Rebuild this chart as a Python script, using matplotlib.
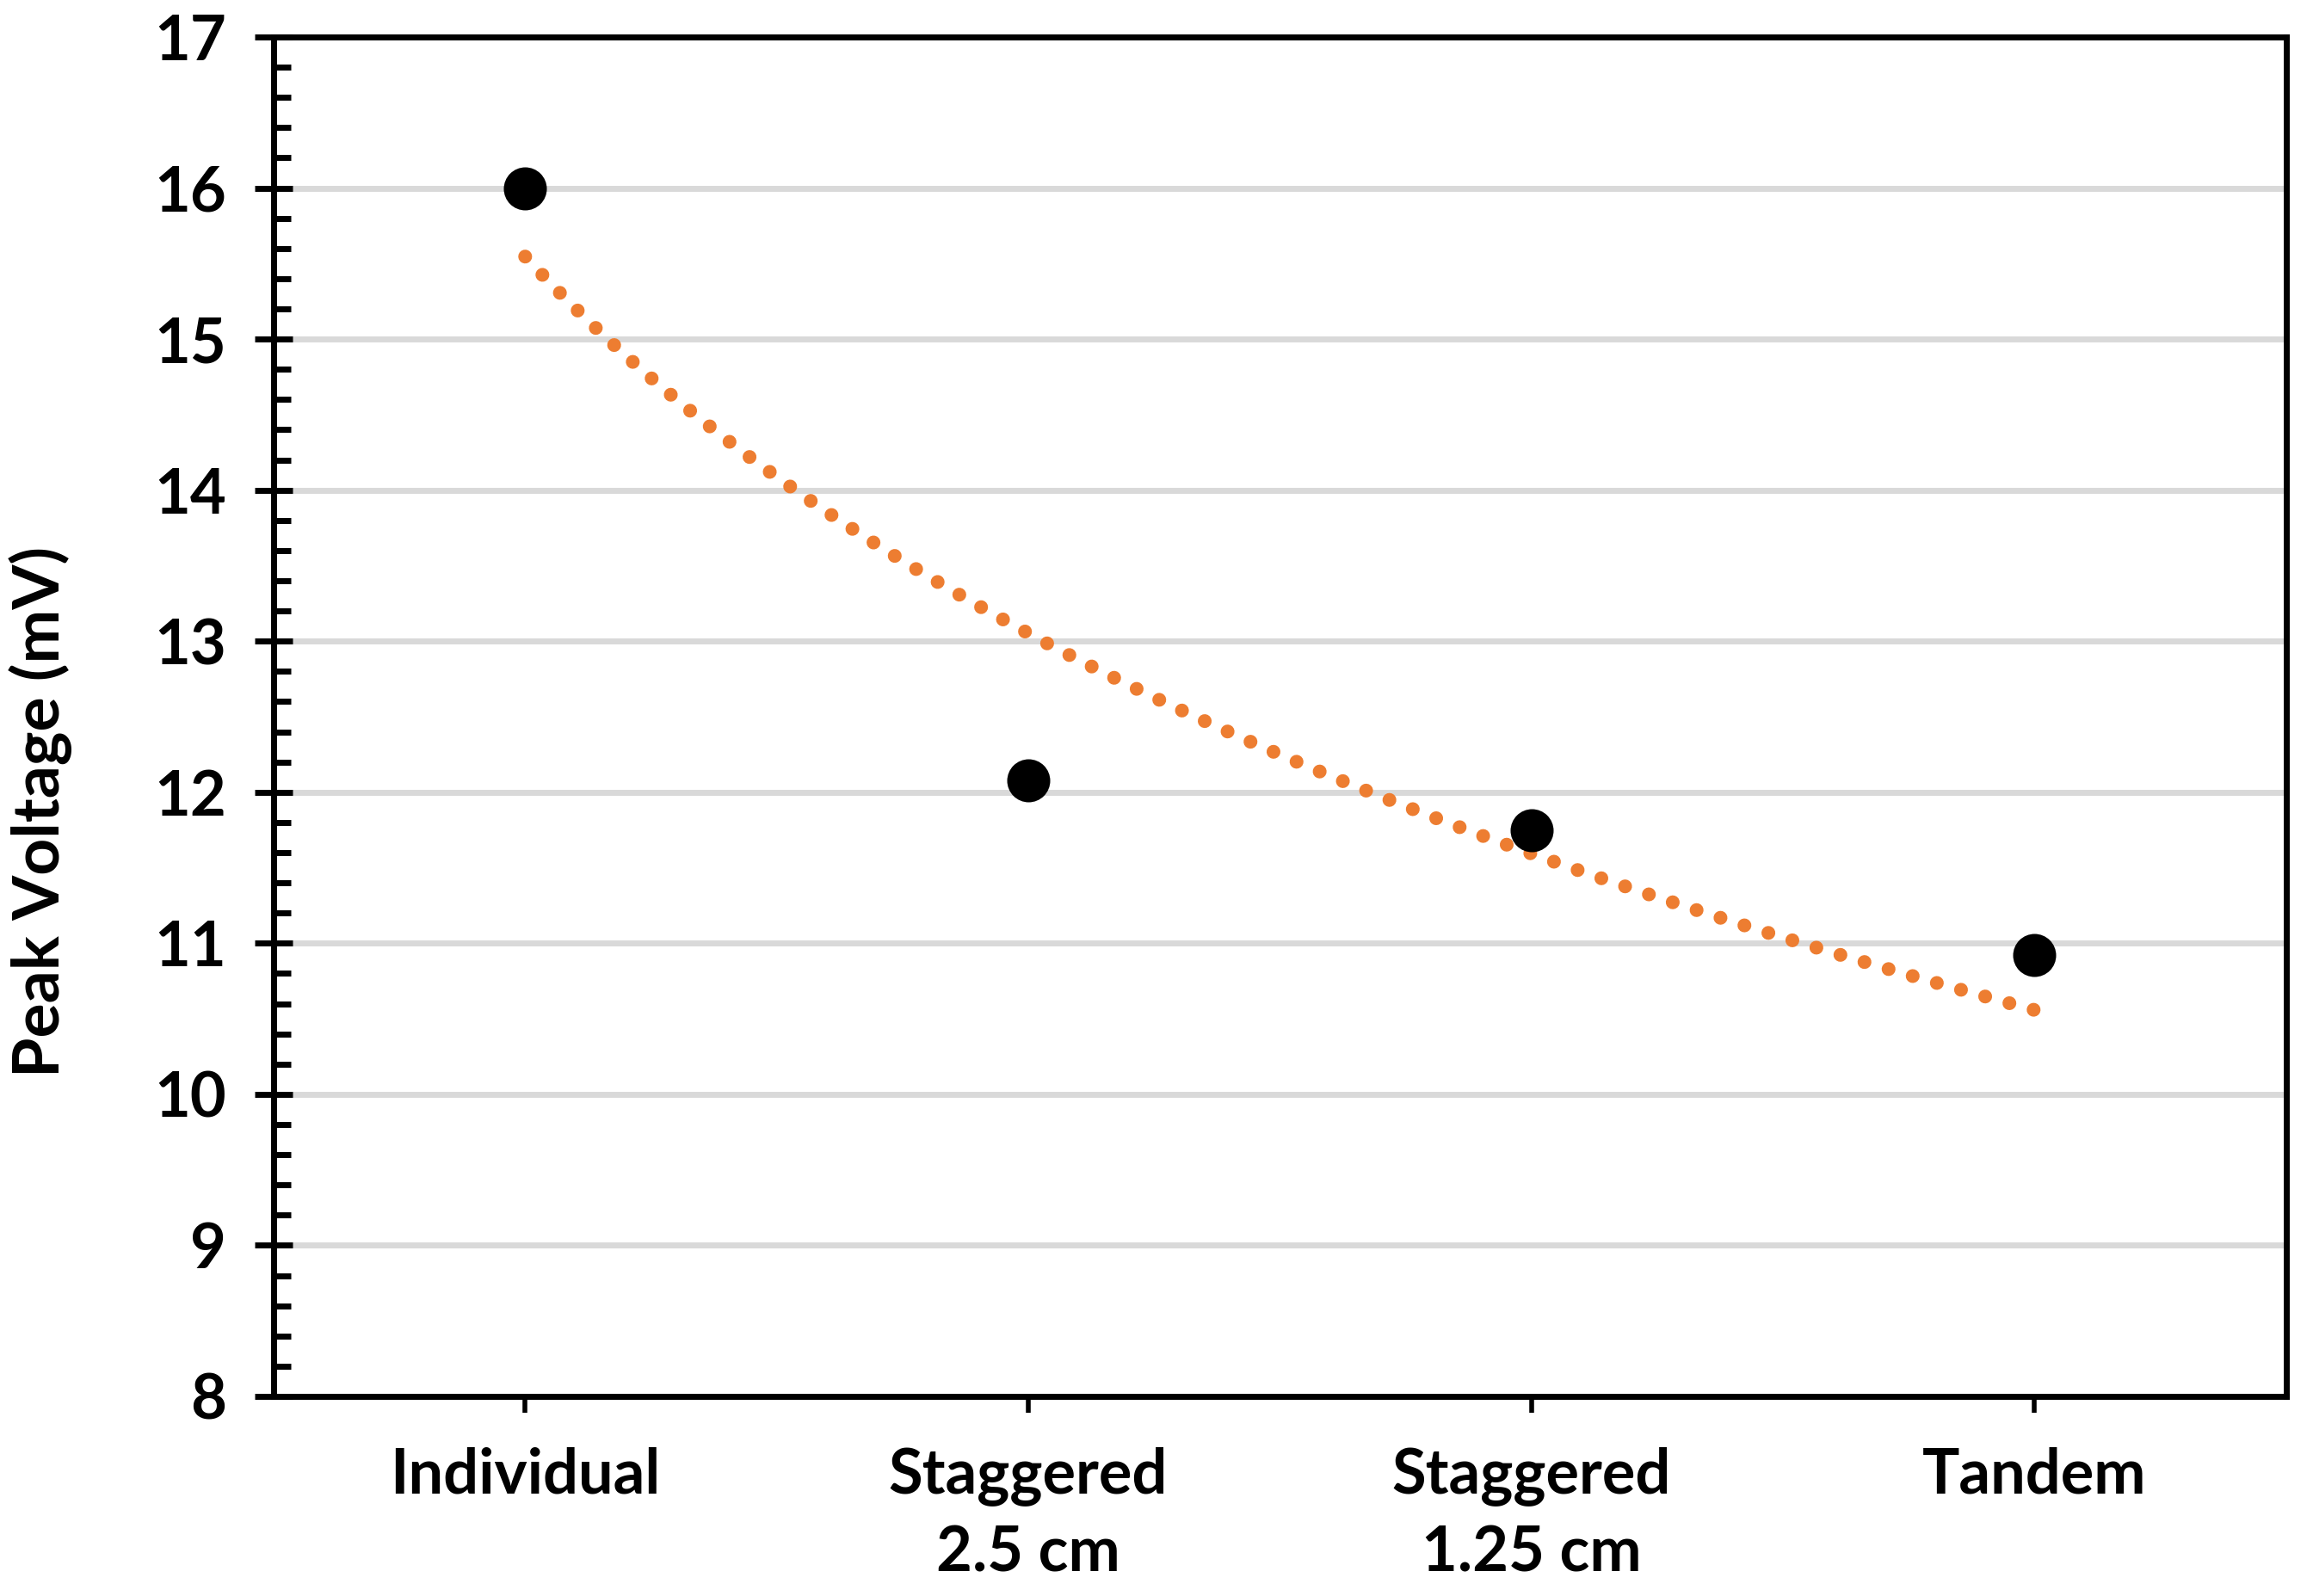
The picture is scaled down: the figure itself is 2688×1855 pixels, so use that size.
# scatter of peak voltage per electrode layout with a logarithmic trendline

import matplotlib
matplotlib.use("Agg")
import matplotlib.pyplot as plt
from matplotlib.ticker import MultipleLocator
import numpy as np

categories = ["Individual", "Staggered\n2.5 cm", "Staggered\n1.25 cm", "Tandem"]
peak_voltage = [16.0, 12.08, 11.75, 10.92]
y_ticks = [8, 9, 10, 11, 12, 13, 14, 15, 16, 17]

plt.rcParams['font.family'] = ['Lato', 'DejaVu Sans']
plt.rcParams['font.weight'] = 'bold'


def main():
    fig = plt.figure(figsize=(13.44, 9.275), dpi=200)
    ax = fig.add_axes([0.1183, 0.1251, 0.8700, 0.8517])

    x = np.arange(1, len(categories) + 1)

    # excel style logarithmic trendline, fit on the points
    b, a = np.polyfit(np.log(x), peak_voltage, 1)
    xs = np.linspace(1, len(categories), 400)
    ax.plot(xs, a + b * np.log(xs), color="#ED7D31", lw=5.8,
            linestyle=(0, (0.001, 1.81)), dash_capstyle="round", zorder=3)

    ax.plot(x, peak_voltage, "o", color="black", markersize=18,
            markeredgewidth=0, zorder=4)

    ax.set_xlim(0.5, len(categories) + 0.5)
    ax.set_ylim(8, 17)
    ax.set_yticks(y_ticks)
    ax.yaxis.set_minor_locator(MultipleLocator(0.2))
    ax.set_xticks(x)
    ax.set_xticklabels(categories, linespacing=1.42)

    ax.grid(axis="y", color="#D9D9D9", lw=2.5, zorder=0)
    ax.set_axisbelow(True)

    for side in ["left", "right", "top", "bottom"]:
        ax.spines[side].set_linewidth(2.5)
        ax.spines[side].set_color("black")

    ax.tick_params(axis="y", which="major", direction="inout", length=15.5,
                   width=2.5, labelsize=26, pad=12)
    ax.tick_params(axis="y", which="minor", direction="in", length=7.2,
                   width=2.5)
    ax.tick_params(axis="x", which="major", direction="out", length=7,
                   width=2, labelsize=26, pad=14)

    ax.set_ylabel("Peak Voltage (mV)", fontsize=27, fontweight="bold")
    ax.yaxis.set_label_coords(-0.1, 0.43)

    fig.savefig("out.png", dpi=200)
    plt.close(fig)


if __name__ == "__main__":
    main()
